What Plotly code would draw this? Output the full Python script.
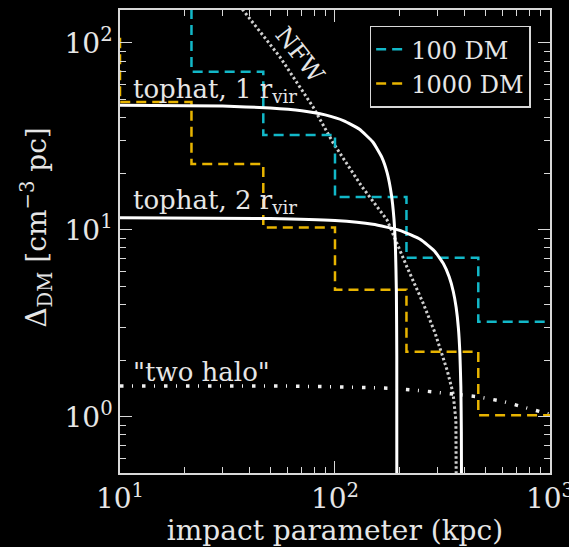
import plotly.graph_objects as go

# ---- data ----
bin_edges_100 = [10, 21.5, 46.4, 100, 215, 464, 1000]
dm_100 = [250, 70, 32.2, 15.0, 7.08, 3.22, 3.22]

bin_edges_1000 = [5, 10, 21.5, 46.4, 100, 215, 464, 1000]
dm_1000 = [105, 48.3, 22.5, 10.3, 4.78, 2.23, 1.02, 1.02]

tophat1_b = [10, 30, 50, 70, 90, 110, 130, 150, 165, 175, 183, 188, 191, 193, 193.8, 194]
tophat1_dm = [46.4, 45.9, 44.9, 43.4, 41.2, 38.3, 34.5, 29.5, 24.5, 20.1, 15.4, 11.5, 8.15, 4.7, 2.1, 0.05]

tophat2_b = [10, 50, 100, 150, 200, 250, 290, 320, 340, 355, 366, 375, 381, 385, 387, 387.8, 388]
tophat2_dm = [11.6, 11.5, 11.2, 10.7, 9.94, 8.87, 7.71, 6.56, 5.59, 4.68, 3.85, 2.98, 2.19, 1.44, 0.83, 0.37, 0.05]

nfw_b = [30, 37.3, 55.5, 79, 98, 133.5, 174.6, 216, 256.6, 292, 332, 354, 365, 368, 369.5, 370]
nfw_dm = [200, 150, 84, 45.5, 29.2, 17.0, 11.3, 6.34, 4.07, 2.81, 1.78, 1.34, 0.96, 0.6, 0.3, 0.05]

twohalo_b = [10, 60, 120, 180, 250, 350, 460, 600, 750, 1000]
twohalo_dm = [1.46, 1.46, 1.44, 1.42, 1.38, 1.33, 1.28, 1.21, 1.13, 1.03]

x_tickvals = [10, 100, 1000]
x_ticktext = ["10<sup>1</sup>", "10<sup>2</sup>", "10<sup>3</sup>"]
x_minor = [20, 30, 40, 50, 60, 70, 80, 90, 200, 300, 400, 500, 600, 700, 800, 900]
y_tickvals = [1, 10, 100]
y_ticktext = ["10<sup>0</sup>", "10<sup>1</sup>", "10<sup>2</sup>"]
y_minor = [0.5, 0.6, 0.7, 0.8, 0.9, 2, 3, 4, 5, 6, 7, 8, 9, 20, 30, 40, 50, 60, 70, 80, 90]

FONT = "DejaVu Serif"
TXT = "#e6e6e6"
CYAN = "#12b8c8"
GOLD = "#e8b400"
AX = "#d8d8d8"

fig = go.Figure()

fig.add_trace(go.Scatter(x=nfw_b, y=nfw_dm, mode="lines", showlegend=False,
                         line=dict(color="#d0d0d0", width=3, dash="2.5px,2.5px")))
fig.add_trace(go.Scatter(x=twohalo_b, y=twohalo_dm, mode="lines", showlegend=False,
                         line=dict(color="#f0f0f0", width=3.5, dash="3.5px,8.5px,1px,9px")))
fig.add_trace(go.Scatter(x=bin_edges_100, y=dm_100, mode="lines", name="100 DM",
                         line=dict(color=CYAN, width=2.5, dash="10px,6px", shape="hv")))
fig.add_trace(go.Scatter(x=bin_edges_1000, y=dm_1000, mode="lines", name="1000 DM",
                         line=dict(color=GOLD, width=2.5, dash="10px,6px", shape="hv")))
fig.add_trace(go.Scatter(x=tophat1_b, y=tophat1_dm, mode="lines", showlegend=False,
                         line=dict(color="white", width=3, shape="spline", smoothing=0.4)))
fig.add_trace(go.Scatter(x=tophat2_b, y=tophat2_dm, mode="lines", showlegend=False,
                         line=dict(color="white", width=3, shape="spline", smoothing=0.4)))

axis_common = dict(
    type="log", showgrid=False, zeroline=False, automargin=False,
    showline=True, linecolor=AX, linewidth=1.5, mirror="ticks",
    ticks="inside", ticklen=12, tickwidth=1.3, tickcolor=AX,
    ticklabeloverflow="allow",
    tickfont=dict(family=FONT, size=28, color=TXT),
)

fig.update_layout(
    width=569, height=547,
    margin=dict(l=120, r=19, t=10, b=74),
    paper_bgcolor="black", plot_bgcolor="black",
    font=dict(family=FONT, color=TXT),
    xaxis=dict(axis_common, range=[1, 3.0001], tickvals=x_tickvals, ticktext=x_ticktext,
               minor=dict(ticks="inside", ticklen=6, tickwidth=1, tickcolor=AX, tickvals=x_minor, showgrid=False),
               title=dict(text="impact parameter (kpc)", font=dict(family=FONT, size=28, color=TXT), standoff=0)),
    yaxis=dict(axis_common, range=[-0.301, 2.176], tickvals=y_tickvals, ticktext=y_ticktext,
               minor=dict(ticks="inside", ticklen=6, tickwidth=1, tickcolor=AX, tickvals=y_minor, showgrid=False)),
    legend=dict(x=0.955, y=0.966, xanchor="right", yanchor="top",
                bgcolor="black", bordercolor=AX, borderwidth=1.5,
                font=dict(family=FONT, size=24, color=TXT), tracegroupgap=0),
)

ann = [
    dict(text="tophat, 1 r<sub>vir</sub>", x=0.026, y=0.827),
    dict(text="tophat, 2 r<sub>vir</sub>", x=0.026, y=0.587),
    dict(text="\"two halo\"", x=0.026, y=0.218),
]
for a in ann:
    fig.add_annotation(text=a["text"], x=a["x"], y=a["y"], xref="paper", yref="paper",
                       xanchor="left", yanchor="middle", showarrow=False,
                       font=dict(family=FONT, size=26, color=TXT))
fig.add_annotation(text="NFW", x=0.418, y=0.902, xref="paper", yref="paper",
                   xanchor="center", yanchor="middle",
                   showarrow=False, textangle=52, font=dict(family=FONT, size=24, color=TXT))
fig.add_annotation(text="Δ<sub>DM</sub> [cm<sup>−3</sup> pc]", x=-0.193, y=0.53,
                   xref="paper", yref="paper", xanchor="center", yanchor="middle",
                   showarrow=False, textangle=-90, font=dict(family=FONT, size=28, color=TXT))

fig.write_html("out.html", config={"displayModeBar": False},
               post_script="document.body.style.margin='0px';document.body.style.padding='0px';document.body.style.overflow='hidden';")
